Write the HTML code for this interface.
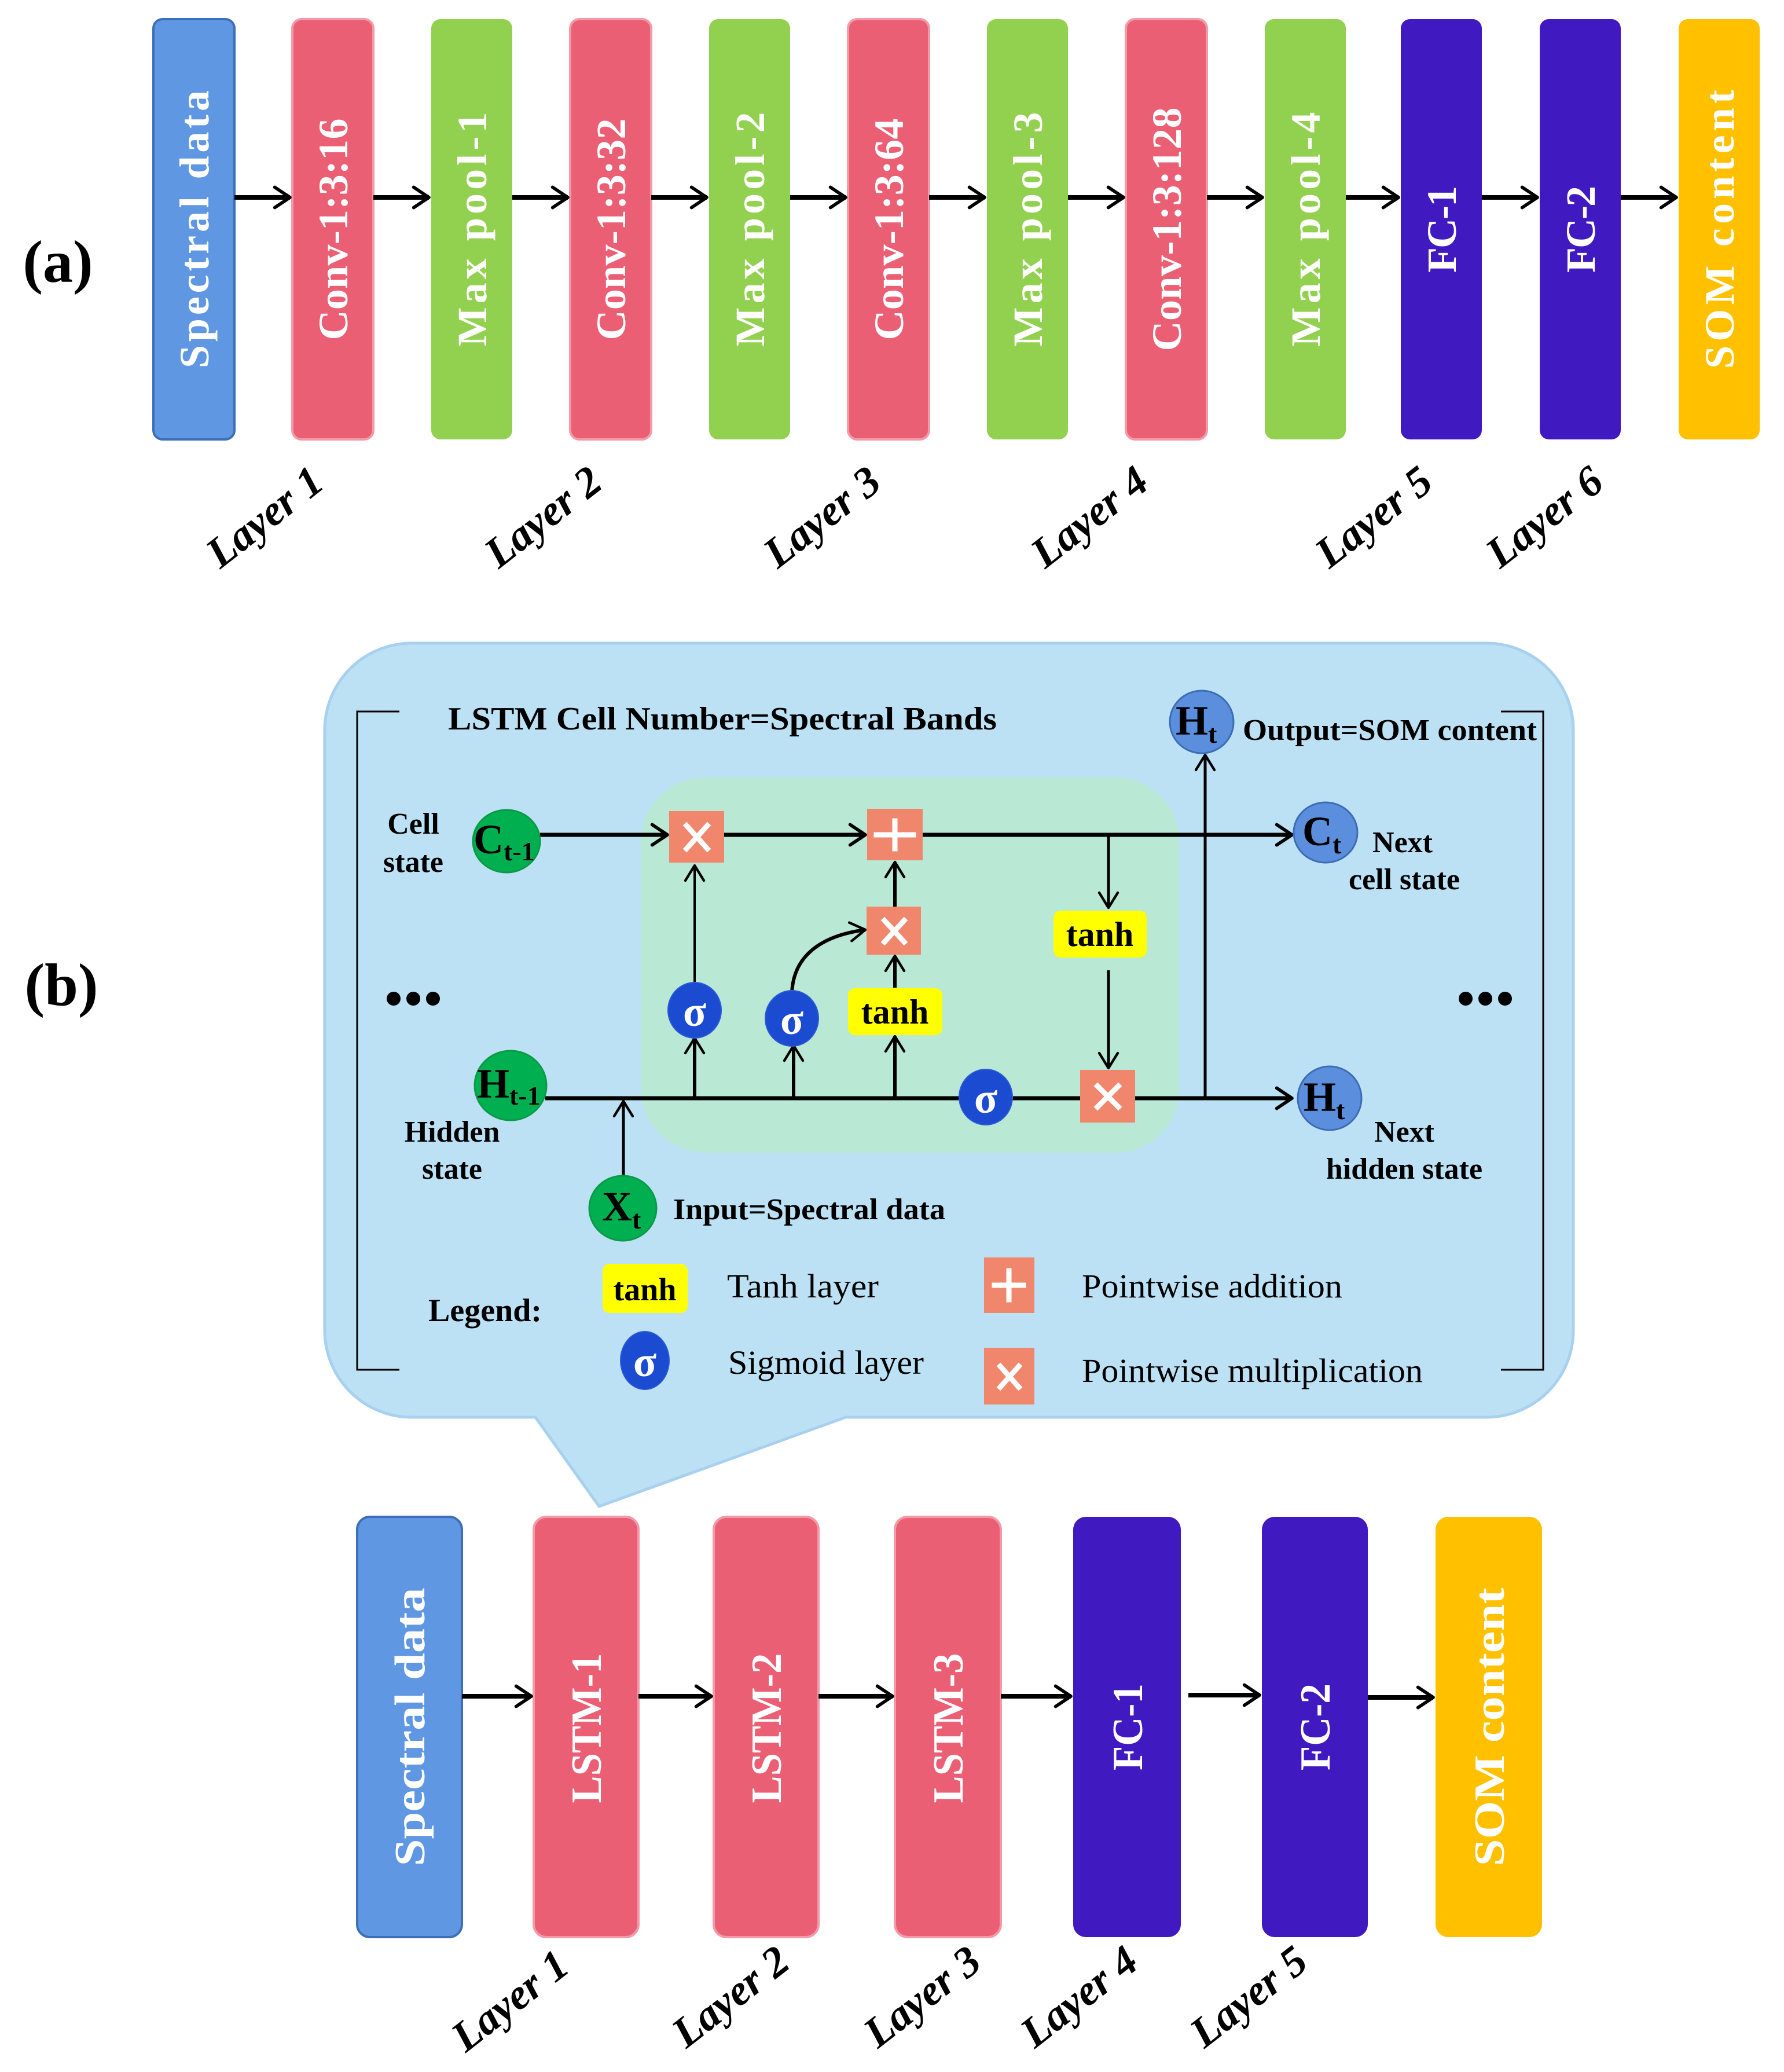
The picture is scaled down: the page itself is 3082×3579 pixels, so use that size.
<!DOCTYPE html>
<html><head><meta charset="utf-8"><style>
html,body{margin:0;padding:0;background:#fff;}
svg{display:block;}
text{font-family:"Liberation Serif",serif;}
</style></head><body>
<svg width="3082" height="3579" viewBox="0 0 3082 3579" xmlns="http://www.w3.org/2000/svg">
<defs>
<marker id="ah" viewBox="0 0 20 20" refX="17" refY="10" markerWidth="44" markerHeight="44" markerUnits="userSpaceOnUse" orient="auto">
<path d="M5,2 L17,10 L5,18" fill="none" stroke="#000" stroke-width="2.6" stroke-linecap="round" stroke-linejoin="round"/>
</marker>
<marker id="ahs" viewBox="0 0 20 20" refX="17" refY="10" markerWidth="40" markerHeight="40" markerUnits="userSpaceOnUse" orient="auto">
<path d="M4,2 L17,10 L4,18" fill="none" stroke="#000" stroke-width="2.2" stroke-linecap="round" stroke-linejoin="round"/>
</marker>
</defs>

<!-- (a) -->
<text x="100" y="487" font-size="104" font-weight="bold" text-anchor="middle">(a)</text>
<g font-weight="bold" fill="#fff" font-size="72" text-anchor="middle" lengthAdjust="spacingAndGlyphs">
<rect x="265" y="33" width="140" height="726" rx="16" fill="#5f97e3" stroke="#3d6fb8" stroke-width="4"/>
<text transform="translate(360,396) rotate(-90)" textLength="480">Spectral data</text>
<rect x="505" y="33" width="140" height="726" rx="16" fill="#eb5f75" stroke="#f39aa8" stroke-width="4"/>
<text transform="translate(600,396) rotate(-90)" textLength="383">Conv-1:3:16</text>
<rect x="745" y="33" width="140" height="726" rx="16" fill="#92d050"/>
<text transform="translate(840,396) rotate(-90)" textLength="405">Max pool-1</text>
<rect x="985" y="33" width="140" height="726" rx="16" fill="#eb5f75" stroke="#f39aa8" stroke-width="4"/>
<text transform="translate(1080,396) rotate(-90)" textLength="383">Conv-1:3:32</text>
<rect x="1225" y="33" width="140" height="726" rx="16" fill="#92d050"/>
<text transform="translate(1320,396) rotate(-90)" textLength="405">Max pool-2</text>
<rect x="1465" y="33" width="140" height="726" rx="16" fill="#eb5f75" stroke="#f39aa8" stroke-width="4"/>
<text transform="translate(1560,396) rotate(-90)" textLength="383">Conv-1:3:64</text>
<rect x="1705" y="33" width="140" height="726" rx="16" fill="#92d050"/>
<text transform="translate(1800,396) rotate(-90)" textLength="405">Max pool-3</text>
<rect x="1945" y="33" width="140" height="726" rx="16" fill="#eb5f75" stroke="#f39aa8" stroke-width="4"/>
<text transform="translate(2040,396) rotate(-90)" textLength="421">Conv-1:3:128</text>
<rect x="2185" y="33" width="140" height="726" rx="16" fill="#92d050"/>
<text transform="translate(2280,396) rotate(-90)" textLength="405">Max pool-4</text>
<rect x="2420" y="33" width="140" height="726" rx="16" fill="#401ac0"/>
<text transform="translate(2515,396) rotate(-90)" textLength="150">FC-1</text>
<rect x="2660" y="33" width="140" height="726" rx="16" fill="#401ac0"/>
<text transform="translate(2755,396) rotate(-90)" textLength="150">FC-2</text>
<rect x="2900" y="33" width="140" height="726" rx="16" fill="#ffc000"/>
<text transform="translate(2995,396) rotate(-90)" textLength="482">SOM content</text>
</g>
<g stroke="#000" stroke-width="8" marker-end="url(#ah)">
<line x1="405" y1="341" x2="501" y2="341"/>
<line x1="645" y1="341" x2="741" y2="341"/>
<line x1="885" y1="341" x2="981" y2="341"/>
<line x1="1125" y1="341" x2="1221" y2="341"/>
<line x1="1365" y1="341" x2="1461" y2="341"/>
<line x1="1605" y1="341" x2="1701" y2="341"/>
<line x1="1845" y1="341" x2="1941" y2="341"/>
<line x1="2085" y1="341" x2="2181" y2="341"/>
<line x1="2325" y1="341" x2="2416" y2="341"/>
<line x1="2560" y1="341" x2="2656" y2="341"/>
<line x1="2800" y1="341" x2="2896" y2="341"/>
</g>
<g font-size="74" font-weight="bold" font-style="italic" text-anchor="middle">
<text transform="translate(472,912) rotate(-38)">Layer 1</text>
<text transform="translate(953,912) rotate(-38)">Layer 2</text>
<text transform="translate(1435,912) rotate(-38)">Layer 3</text>
<text transform="translate(1897,912) rotate(-38)">Layer 4</text>
<text transform="translate(2388,912) rotate(-38)">Layer 5</text>
<text transform="translate(2683,912) rotate(-38)">Layer 6</text>
</g>

<!-- (b) -->
<text x="106" y="1736" font-size="104" font-weight="bold" text-anchor="middle">(b)</text>
<path d="M711,1111 H2568 A150,150 0 0 1 2718,1261 V2298 A150,150 0 0 1 2568,2448 H1461 L1035,2602 L925,2448 H711 A150,150 0 0 1 561,2298 V1261 A150,150 0 0 1 711,1111 Z" fill="#bde1f4" stroke="#a8d0ef" stroke-width="5"/>
<path d="M690,1229 H617 V2366 H690" fill="none" stroke="#000" stroke-width="3"/>
<path d="M2593,1229 H2666 V2366 H2593" fill="none" stroke="#000" stroke-width="3"/>
<rect x="1108" y="1343" width="929" height="648" rx="110" fill="#b9e8d5"/>

<g font-weight="bold" font-size="52" lengthAdjust="spacingAndGlyphs">
<text x="774" y="1260" font-size="56" textLength="948" lengthAdjust="spacingAndGlyphs">LSTM Cell Number=Spectral Bands</text>
<text x="2147" y="1278" textLength="508" lengthAdjust="spacingAndGlyphs">Output=SOM content</text>
<text x="714" y="1440" text-anchor="middle">Cell</text>
<text x="714" y="1506" text-anchor="middle">state</text>
<text x="2423" y="1472" text-anchor="middle">Next</text>
<text x="2426" y="1536" text-anchor="middle">cell state</text>
<text x="781" y="1972" text-anchor="middle">Hidden</text>
<text x="781" y="2036" text-anchor="middle">state</text>
<text x="2426" y="1972" text-anchor="middle">Next</text>
<text x="2426" y="2036" text-anchor="middle">hidden state</text>
<text x="1163" y="2106" textLength="470" lengthAdjust="spacingAndGlyphs">Input=Spectral data</text>
<text x="838" y="2282" font-size="56" text-anchor="middle">Legend:</text>
</g>
<g font-size="58">
<text x="1256" y="2241" textLength="262" lengthAdjust="spacingAndGlyphs">Tanh layer</text>
<text x="1869" y="2241" textLength="450" lengthAdjust="spacingAndGlyphs">Pointwise addition</text>
<text x="1258" y="2373" textLength="338" lengthAdjust="spacingAndGlyphs">Sigmoid layer</text>
<text x="1869" y="2387" textLength="589" lengthAdjust="spacingAndGlyphs">Pointwise multiplication</text>
</g>
<g fill="#000">
<circle cx="680" cy="1725" r="12"/><circle cx="714" cy="1725" r="12"/><circle cx="748" cy="1725" r="12"/>
<circle cx="2532" cy="1725" r="12"/><circle cx="2566" cy="1725" r="12"/><circle cx="2600" cy="1725" r="12"/>
</g>

<!-- connectors -->
<g stroke="#000" stroke-width="7" fill="none">
<line x1="933" y1="1442" x2="1153" y2="1442" marker-end="url(#ah)"/>
<line x1="1251" y1="1442" x2="1495" y2="1442" marker-end="url(#ah)"/>
<line x1="1594" y1="1442" x2="2232" y2="1442" marker-end="url(#ah)"/>
<line x1="1915" y1="1442" x2="1915" y2="1568" stroke-width="5" marker-end="url(#ahs)"/>
<line x1="1915" y1="1676" x2="1915" y2="1845" stroke-width="5" marker-end="url(#ahs)"/>
<line x1="942" y1="1897" x2="2232" y2="1897" marker-end="url(#ah)"/>
<line x1="2082" y1="1897" x2="2082" y2="1304" stroke-width="5" marker-end="url(#ahs)"/>
<line x1="1077" y1="2030" x2="1077" y2="1902" stroke-width="5" marker-end="url(#ahs)"/>
<line x1="1200" y1="1700" x2="1200" y2="1495" stroke-width="4" marker-end="url(#ahs)"/>
<line x1="1200" y1="1897" x2="1200" y2="1793" stroke-width="6" marker-end="url(#ahs)"/>
<line x1="1371" y1="1897" x2="1371" y2="1806" stroke-width="6" marker-end="url(#ahs)"/>
<line x1="1546" y1="1897" x2="1546" y2="1790" stroke-width="6" marker-end="url(#ahs)"/>
<line x1="1546" y1="1706" x2="1546" y2="1651" stroke-width="6" marker-end="url(#ahs)"/>
<line x1="1546" y1="1566" x2="1546" y2="1489" stroke-width="6" marker-end="url(#ahs)"/>
<path d="M1368,1716 C1370,1650 1420,1616 1495,1606" stroke-width="6" marker-end="url(#ahs)"/>
</g>

<!-- pointwise boxes -->
<g fill="#f0876d">
<rect x="1156" y="1401" width="95" height="89"/>
<rect x="1498" y="1397" width="96" height="89"/>
<rect x="1497" y="1566" width="94" height="83"/>
<rect x="1866" y="1848" width="95" height="91"/>
<rect x="1700" y="2172" width="87" height="96"/>
<rect x="1700" y="2328" width="87" height="98"/>
</g>
<g stroke="#fff" stroke-width="9" stroke-linecap="square">
<path d="M1186,1426 L1222,1466 M1222,1426 L1186,1466"/>
<path d="M1546,1418 V1466 M1514,1442 H1578"/>
<path d="M1528,1590 L1562,1627 M1562,1590 L1528,1627"/>
<path d="M1896,1876 L1932,1912 M1932,1876 L1896,1912"/>
<path d="M1743,2195 V2245 M1718,2220 H1768"/>
<path d="M1728,2360 L1760,2396 M1760,2360 L1728,2396"/>
</g>

<!-- tanh boxes -->
<g font-weight="bold" font-size="60" text-anchor="middle">
<rect x="1820" y="1573" width="161" height="81" rx="12" fill="#ffff00"/>
<text x="1900" y="1634">tanh</text>
<rect x="1465" y="1707" width="163" height="81" rx="12" fill="#ffff00"/>
<text x="1546" y="1768">tanh</text>
<rect x="1041" y="2183" width="147" height="85" rx="12" fill="#ffff00"/>
<text x="1114" y="2246" font-size="56">tanh</text>
</g>

<!-- sigma -->
<g fill="#1a4bd0" stroke="#2c5ad6" stroke-width="2">
<ellipse cx="1200" cy="1745" rx="46" ry="48"/>
<ellipse cx="1368" cy="1759" rx="46" ry="48"/>
<ellipse cx="1703" cy="1895" rx="46" ry="48"/>
<ellipse cx="1114" cy="2350" rx="42" ry="50"/>
</g>
<g fill="#fff" font-weight="bold" font-size="74" text-anchor="middle">
<text x="1200" y="1772">σ</text>
<text x="1368" y="1786">σ</text>
<text x="1703" y="1922">σ</text>
<text x="1114" y="2377">σ</text>
</g>

<!-- state circles -->
<g stroke-width="3">
<ellipse cx="875" cy="1453" rx="58" ry="54" fill="#00b050" stroke="#0a9a48"/>
<ellipse cx="882" cy="1875" rx="62" ry="60" fill="#00b050" stroke="#0a9a48"/>
<ellipse cx="1076" cy="2087" rx="58" ry="56" fill="#00b050" stroke="#0a9a48"/>
<ellipse cx="2290" cy="1438" rx="55" ry="52" fill="#5b8fdd" stroke="#3c6cb6"/>
<ellipse cx="2297" cy="1897" rx="55" ry="55" fill="#5b8fdd" stroke="#3c6cb6"/>
<ellipse cx="2076" cy="1247" rx="55" ry="54" fill="#5b8fdd" stroke="#3c6cb6"/>
</g>
<g font-weight="bold" font-size="72">
<text x="818" y="1474">C<tspan font-size="46" dy="12">t-1</tspan></text>
<text x="824" y="1896">H<tspan font-size="46" dy="12">t-1</tspan></text>
<text x="1040" y="2108">X<tspan font-size="46" dy="14">t</tspan></text>
<text x="2250" y="1460">C<tspan font-size="46" dy="14">t</tspan></text>
<text x="2252" y="1919">H<tspan font-size="46" dy="14">t</tspan></text>
<text x="2031" y="1269">H<tspan font-size="46" dy="14">t</tspan></text>
</g>

<!-- bottom network -->
<g font-weight="bold" fill="#fff" font-size="74" text-anchor="middle">
<rect x="617" y="2620" width="181" height="726" rx="22" fill="#5f97e3" stroke="#3d6fb8" stroke-width="4"/>
<text transform="translate(733,2983) rotate(-90)" textLength="481" lengthAdjust="spacingAndGlyphs">Spectral data</text>
<rect x="922" y="2620" width="181" height="726" rx="22" fill="#eb5f75" stroke="#f39aa8" stroke-width="4"/>
<text transform="translate(1038,2985) rotate(-90)" textLength="259" lengthAdjust="spacingAndGlyphs">LSTM-1</text>
<rect x="1233" y="2620" width="181" height="726" rx="22" fill="#eb5f75" stroke="#f39aa8" stroke-width="4"/>
<text transform="translate(1349,2985) rotate(-90)" textLength="259" lengthAdjust="spacingAndGlyphs">LSTM-2</text>
<rect x="1546" y="2620" width="183" height="726" rx="22" fill="#eb5f75" stroke="#f39aa8" stroke-width="4"/>
<text transform="translate(1663,2985) rotate(-90)" textLength="259" lengthAdjust="spacingAndGlyphs">LSTM-3</text>
<rect x="1854" y="2620" width="186" height="726" rx="22" fill="#401ac0"/>
<text transform="translate(1973,2983) rotate(-90)" textLength="150" lengthAdjust="spacingAndGlyphs">FC-1</text>
<rect x="2180" y="2620" width="183" height="726" rx="22" fill="#401ac0"/>
<text transform="translate(2297,2983) rotate(-90)" textLength="150" lengthAdjust="spacingAndGlyphs">FC-2</text>
<rect x="2480" y="2620" width="184" height="726" rx="22" fill="#ffc000"/>
<text transform="translate(2598,2983) rotate(-90)" textLength="481" lengthAdjust="spacingAndGlyphs">SOM content</text>
</g>
<g stroke="#000" stroke-width="8" marker-end="url(#ah)">
<line x1="798" y1="2930" x2="918" y2="2930"/>
<line x1="1103" y1="2930" x2="1229" y2="2930"/>
<line x1="1414" y1="2930" x2="1542" y2="2930"/>
<line x1="1729" y1="2930" x2="1850" y2="2930"/>
<line x1="2053" y1="2928" x2="2176" y2="2928"/>
<line x1="2363" y1="2932" x2="2476" y2="2932"/>
</g>
<g font-size="74" font-weight="bold" font-style="italic" text-anchor="middle">
<text transform="translate(896,3475) rotate(-38)">Layer 1</text>
<text transform="translate(1277,3468) rotate(-38)">Layer 2</text>
<text transform="translate(1608,3468) rotate(-38)">Layer 3</text>
<text transform="translate(1879,3468) rotate(-38)">Layer 4</text>
<text transform="translate(2172,3468) rotate(-38)">Layer 5</text>
</g>
</svg>
</body></html>
